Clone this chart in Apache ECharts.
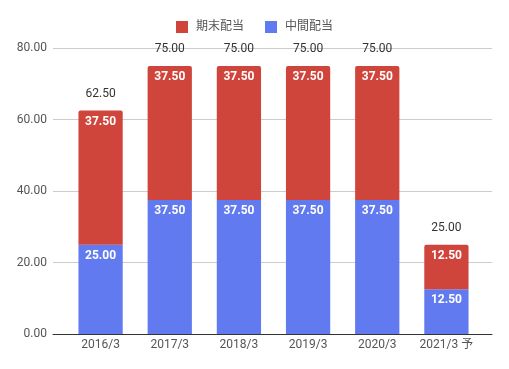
<!DOCTYPE html>
<html><head><meta charset="utf-8">
<script src="https://cdn.jsdelivr.net/npm/echarts@6/dist/echarts.min.js"></script>
<style>html,body{margin:0;padding:0;background:#fff}#c{width:509px;height:369px}</style>
</head><body><div id="c"></div>
<script>
const categories = ['2016/3','2017/3','2018/3','2019/3','2020/3','2021/3 予'];
const interim = [25.00, 37.50, 37.50, 37.50, 37.50, 12.50];
const yearEnd = [37.50, 37.50, 37.50, 37.50, 37.50, 12.50];
const totals = [62.50, 75.00, 75.00, 75.00, 75.00, 25.00];
const yTicks = [0, 20, 40, 60, 80];
const seriesNames = ['期末配当', '中間配当'];

const font = 'Roboto, "Noto Sans CJK JP", sans-serif';
const chart = echarts.init(document.getElementById('c'), null, {renderer: 'canvas'});
chart.setOption({
  animation: false,
  textStyle: {fontFamily: font},
  legend: {
    top: 16, left: 'center', itemWidth: 12, itemHeight: 12, itemGap: 21,
    icon: 'rect',
    data: [seriesNames[0], seriesNames[1]],
    textStyle: {fontSize: 12, color: '#555', fontFamily: font, padding: [0, 0, 0, 3]}
  },
  grid: [
    {left: 53, right: 17, top: 48, bottom: 35},
    {left: 66, right: 28, top: 48, bottom: 35}
  ],
  xAxis: [
    {gridIndex: 0, type: 'value', min: 0, max: 1, show: true,
     axisLine: {show: true, lineStyle: {color: '#333', width: 1}},
     axisTick: {show: false}, axisLabel: {show: false}, splitLine: {show: false}},
    {gridIndex: 1, type: 'category', data: categories,
     axisLine: {show: false}, axisTick: {show: false},
     axisLabel: {interval: 0, color: '#555', fontSize: 12, margin: 5, fontFamily: font}}
  ],
  yAxis: [
    {gridIndex: 0, type: 'value', min: yTicks[0], max: yTicks[yTicks.length-1], interval: 20,
     axisLine: {show: false}, axisTick: {show: false},
     axisLabel: {color: '#555', fontSize: 12, margin: 6, formatter: v => v.toFixed(2), fontFamily: font},
     splitLine: {lineStyle: {color: '#ccc'}}},
    {gridIndex: 1, type: 'value', min: 0, max: 80, show: false}
  ],
  series: [
    {name: seriesNames[1], type: 'bar', stack: 's', xAxisIndex: 1, yAxisIndex: 1,
     data: interim, barCategoryGap: '36%', itemStyle: {color: '#627aef'},
     label: {show: true, position: 'insideTop', distance: 5, color: '#fff', fontWeight: 'bold', fontSize: 12,
             formatter: p => p.value.toFixed(2)}},
    {name: seriesNames[0], type: 'bar', stack: 's', xAxisIndex: 1, yAxisIndex: 1,
     data: yearEnd, barCategoryGap: '36%', itemStyle: {color: '#d0453b', borderRadius: [2,2,0,0]},
     label: {show: true, position: 'insideTop', distance: 5, color: '#fff', fontWeight: 'bold', fontSize: 12,
             formatter: p => p.value.toFixed(2)}},
    {name: 'total', type: 'bar', stack: 's', xAxisIndex: 1, yAxisIndex: 1,
     data: totals.map(() => 0), barCategoryGap: '36%', itemStyle: {color: 'transparent'},
     label: {show: true, position: 'top', distance: 11, color: '#333', fontSize: 12,
             formatter: p => totals[p.dataIndex].toFixed(2)}}
  ]
});
</script></body></html>
